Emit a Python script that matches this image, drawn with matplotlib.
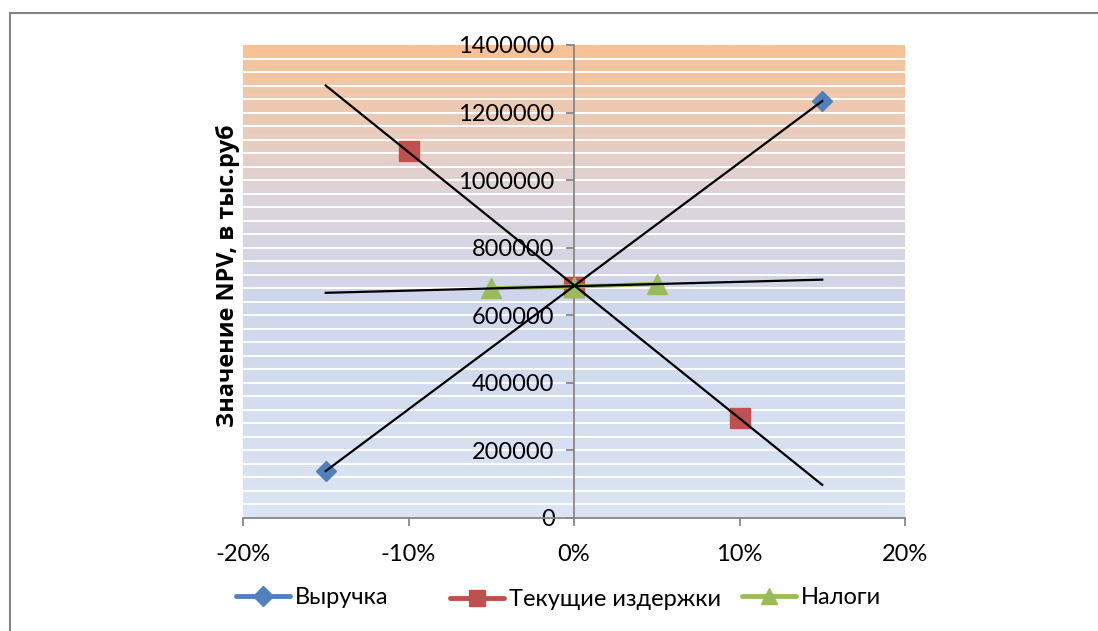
import numpy as np
import matplotlib
matplotlib.use("Agg")
import matplotlib.pyplot as plt
from matplotlib.lines import Line2D
from matplotlib.colors import LinearSegmentedColormap

plt.rcParams['font.family'] = ['Lato', 'DejaVu Sans']

# Data
rev_x = [-0.15, 0.0, 0.15]
rev_y = [140000, 685000, 1235000]
cost_x = [-0.10, 0.0, 0.10]
cost_y = [1085000, 685000, 297000]
tax_x = [-0.05, 0.0, 0.05]
tax_y = [680000, 685000, 693000]
series_names = ['Выручка', 'Текущие издержки', 'Налоги']
x_ticks = [-0.2, -0.1, 0.0, 0.1, 0.2]
x_tick_labels = ['-20%', '-10%', '0%', '10%', '20%']
y_ticks = [0, 200000, 400000, 600000, 800000, 1000000, 1200000, 1400000]
y_label = 'Значение NPV, в тыс.руб'
trend_range = [-0.15, 0.15]

colors = ['#4F81BD', '#C0504D', '#9BBB59']
gray = '#868686'

W, H = 1098, 631
fig = plt.figure(figsize=(W / 100, H / 100), dpi=100)
ax = fig.add_axes([243 / W, 1 - 518 / H, (905 - 243) / W, (518 - 45) / H])
ax.set_xlim(-0.2, 0.2)
ax.set_ylim(0, 1400000)

# gradient background
cmap = LinearSegmentedColormap.from_list('bg', [
    (0.0, (220/255, 229/255, 243/255)),
    (0.45, (206/255, 215/255, 236/255)),
    (0.68, (221/255, 212/255, 218/255)),
    (1.0, (249/255, 193/255, 148/255)),
])
grad = np.linspace(0, 1, 256).reshape(-1, 1)
ax.imshow(grad, cmap=cmap, origin='lower', extent=[-0.2, 0.2, 0, 1400000],
          aspect='auto', zorder=0)
for yv in np.arange(40000, 1400000, 40000):
    ax.axhline(yv, color='white', lw=1.4, zorder=1)

# series (blue and red lines lie under their trend lines)
ax.plot(rev_x, rev_y, ls='none', marker='D', ms=10, color=colors[0], zorder=3)
ax.plot(cost_x, cost_y, ls='none', marker='s', ms=14, color=colors[1], zorder=3)
ax.plot(tax_x, tax_y, color=colors[2], lw=3, marker='^', ms=14, zorder=3)

# linear trend lines
for xs, ys in [(rev_x, rev_y), (cost_x, cost_y), (tax_x, tax_y)]:
    k, b = np.polyfit(xs, ys, 1)
    tx = np.array(trend_range)
    ax.plot(tx, k * tx + b, color='black', lw=1.6, zorder=4)

# axes styling
for s in ['top', 'right']:
    ax.spines[s].set_visible(False)
ax.spines['left'].set_position(('data', 0))
ax.spines['left'].set_color(gray)
ax.spines['bottom'].set_color(gray)
ax.spines['left'].set_linewidth(1.3)
ax.spines['bottom'].set_linewidth(1.3)
ax.spines['left'].set_zorder(2)
ax.set_xticks(x_ticks)
ax.set_xticklabels(x_tick_labels)
ax.set_yticks(y_ticks)
ax.set_yticklabels([str(v) for v in y_ticks])
ax.tick_params(axis='both', colors=gray, labelcolor='black', labelsize=17,
               length=6, width=1.3, direction='out')
ax.tick_params(axis='y', pad=8)
ax.tick_params(axis='x', pad=13)

fig.text(228 / W, 1 - 276 / H, y_label, rotation=90, ha='center', va='center',
         fontsize=16.8, fontweight='bold', family=['Open Sans', 'DejaVu Sans'])

# legend (three entries positioned like the original)
handles = [Line2D([], [], color=colors[0], lw=3.5, marker='D', ms=10, solid_capstyle='round'),
           Line2D([], [], color=colors[1], lw=3.5, marker='s', ms=12, solid_capstyle='round'),
           Line2D([], [], color=colors[2], lw=3.5, marker='^', ms=12, solid_capstyle='round')]
starts = [236, 450, 742]
ys_leg = [598, 600, 598]
for h, name, sx, yy in zip(handles, series_names, starts, ys_leg):
    fig.legend([h], [name], loc='center left',
               bbox_to_anchor=(sx / W, 1 - yy / H), frameon=False,
               fontsize=17, handlelength=2.3, handletextpad=0.2,
               borderpad=0, borderaxespad=0)

# outer chart frame (top and left edges visible)
fig.add_artist(Line2D([10 / W, 1.0], [1 - 13 / H, 1 - 13 / H], color=gray, lw=1.5))
fig.add_artist(Line2D([10 / W, 10 / W], [0, 1 - 13 / H], color=gray, lw=1.5))

fig.savefig('out.png', dpi=100, facecolor='white')
